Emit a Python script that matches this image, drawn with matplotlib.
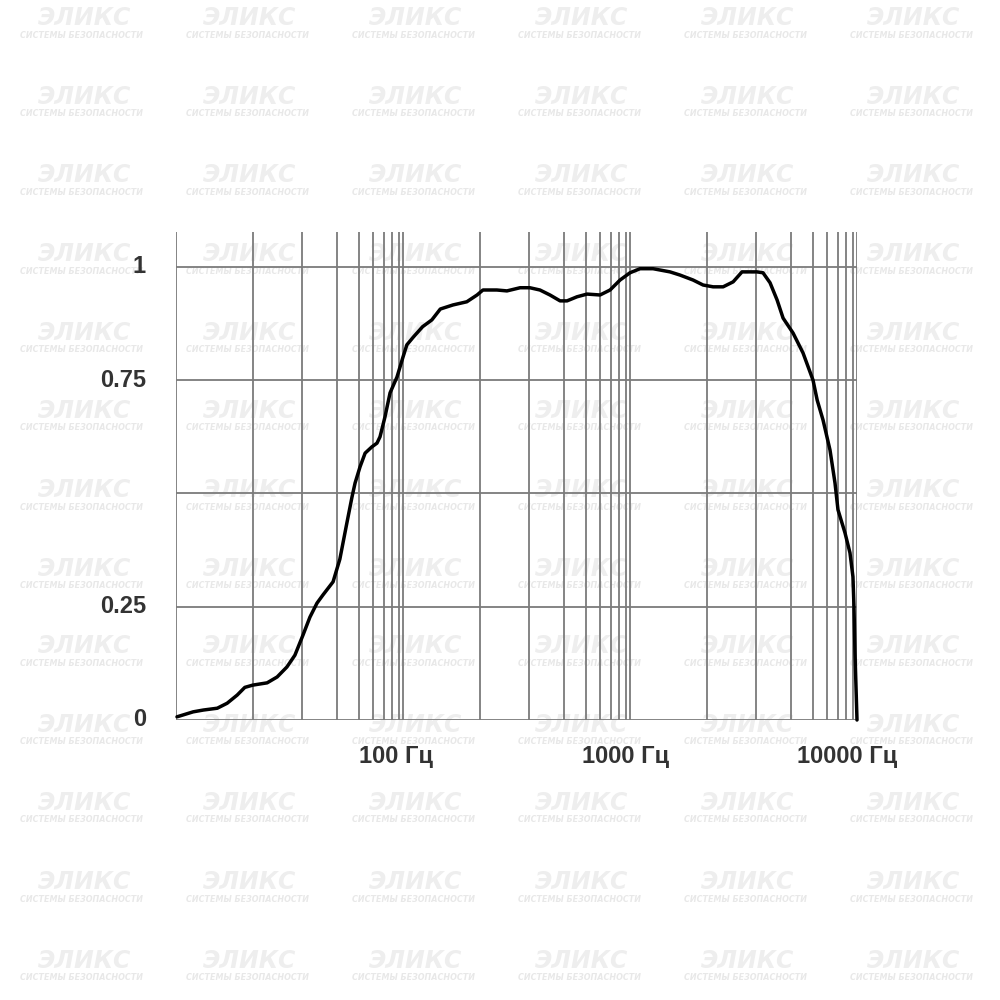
import matplotlib
matplotlib.use("Agg")
import matplotlib.pyplot as plt

# frequency response (Hz, relative level)
freq = [10.1, 11.9, 13.2, 15.2, 16.8, 18.6, 20.1, 21.8, 25.2, 27.9,
        30.8, 33.4, 36.3, 38.9, 41.8, 44.4, 49.2, 52.7, 56.6, 59.6,
        61.5, 64.7, 68.1, 73.0, 76.8, 79.2, 83.3, 87.7, 94.1, 100,
        104, 111, 122, 134, 146, 166, 191, 212, 225, 259,
        287, 328, 362, 401, 444, 492, 528, 584, 647, 738,
        817, 904, 1000, 1107, 1263, 1500, 1660, 1896, 2099, 2323,
        2572, 2847, 3115, 3625, 3854, 4139, 4446, 4725, 5228, 5785,
        6402, 6677, 7086, 7603, 8000, 8245, 8853, 9311, 9598, 9700,
        9797, 10000]
level = [0.007, 0.018, 0.022, 0.026, 0.037, 0.055, 0.072, 0.077, 0.082, 0.095,
         0.117, 0.143, 0.188, 0.227, 0.258, 0.276, 0.305, 0.355, 0.435, 0.492,
         0.523, 0.559, 0.589, 0.603, 0.611, 0.625, 0.669, 0.722, 0.757, 0.801,
         0.828, 0.845, 0.868, 0.883, 0.907, 0.916, 0.923, 0.938, 0.949, 0.949,
         0.947, 0.954, 0.954, 0.949, 0.938, 0.925, 0.925, 0.934, 0.940, 0.938,
         0.949, 0.971, 0.987, 0.996, 0.996, 0.989, 0.982, 0.971, 0.960, 0.956,
         0.956, 0.967, 0.989, 0.989, 0.987, 0.965, 0.927, 0.887, 0.854, 0.810,
         0.750, 0.706, 0.662, 0.596, 0.523, 0.464, 0.413, 0.369, 0.316, 0.249,
         0.148, 0.0]

# vertical grid inside each decade (as drawn on the original, not a true log grid)
decades = [10, 100, 1000]
grid_mult = [2.18, 3.59, 5.12, 6.41, 7.38, 8.25, 8.95, 9.59]
y_grid = [0, 0.25, 0.5, 0.75, 1]
y_labels = {1: "1", 0.75: "0.75", 0.25: "0.25", 0: "0"}
x_labels = [(100, "100 Гц", -7), (1000, "1000 Гц", -4), (10000, "10000 Гц", -10)]

fig = plt.figure(figsize=(10, 10), dpi=100)
fig.patch.set_facecolor("white")

# watermark behind everything
wm_x = [0.085, 0.250, 0.416, 0.582, 0.748, 0.914]
wm_y = [0.982, 0.903, 0.825, 0.746, 0.667, 0.589, 0.510, 0.431, 0.354, 0.275, 0.197, 0.118, 0.039]
for cx in wm_x:
    for cy in wm_y:
        fig.text(cx, cy, "ЭЛИКС", ha="center", va="center", fontsize=17,
                 fontweight="bold", fontstyle="italic", color="#eeeeee", zorder=-2)
        fig.text(cx - 0.003, cy - 0.017, "СИСТЕМЫ БЕЗОПАСНОСТИ", ha="center", va="center",
                 fontsize=5.8, fontweight="bold", fontstyle="italic", color="#e8e8e8", zorder=-2)

ax = fig.add_axes([0.176, 0.28, 0.681, 0.488])
ax.set_facecolor("none")
ax.set_xscale("log")
ax.set_xlim(10, 10000)
ax.set_ylim(0, 1.077)
for s in ax.spines.values():
    s.set_visible(False)
ax.set_xticks([])
ax.set_yticks([])
ax.minorticks_off()

gc = "#7b7b7b"
for d in decades:
    ax.axvline(d, color=gc, lw=1.3)
    for m in grid_mult:
        ax.axvline(d * m, color=gc, lw=1.3)
ax.axvline(10000, color=gc, lw=1.3)
for v in y_grid:
    ax.axhline(v, color=gc, lw=1.3)

ax.plot(freq, level, color="black", lw=2.5, solid_joinstyle="round",
        solid_capstyle="round", clip_on=False, zorder=5)

lab_font = dict(family=["Liberation Sans", "DejaVu Sans"], fontsize=17,
                fontweight="bold", color="#333333")
for v, t in y_labels.items():
    ax.annotate(t, xy=(0, v), xycoords=("axes fraction", "data"),
                xytext=(-30, 0), textcoords="offset pixels",
                ha="right", va="center", **lab_font)
for f, t, dx in x_labels:
    ax.annotate(t, xy=(f, 0), xycoords=("data", "axes fraction"),
                xytext=(dx, -36), textcoords="offset pixels",
                ha="center", va="center", **lab_font)

fig.savefig("out.png", dpi=100, facecolor="white")
